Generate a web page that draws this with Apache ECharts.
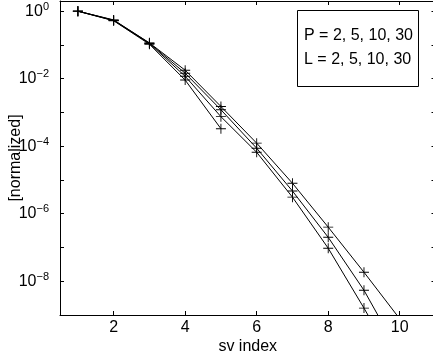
<!DOCTYPE html>
<html>
<head>
<meta charset="utf-8">
<script src="https://cdn.jsdelivr.net/npm/echarts@6/dist/echarts.min.js"></script>
<style>html,body{margin:0;padding:0;background:#fff;}#c{width:433px;height:362px;}</style>
</head>
<body>
<div id="c"></div>
<script>
const svIndex = [1, 2, 3, 4, 5, 6, 7, 8, 9, 10];
const seriesP2 = [1, 0.52, 0.105, 0.0091, 0.00033];
const seriesP5 = [1, 0.53, 0.11, 0.0118, 0.00075, 6.6e-5, 3.1e-6, 9.5e-8, 1.6e-9, 2.3e-11];
const seriesP10 = [1, 0.54, 0.113, 0.0145, 0.0012, 8.7e-5, 4.7e-6, 2.0e-7, 5.4e-9, 6.9e-11];
const seriesP30 = [1, 0.55, 0.115, 0.0178, 0.0015, 1.23e-4, 8.0e-6, 4.0e-7, 1.85e-8, 7.7e-10];
const pValues = [2, 5, 10, 30];
const lValues = [2, 5, 10, 30];
const xTicks = [2, 4, 6, 8, 10];

const FONT = "'Liberation Sans', Arial, sans-serif";
const plusSymbol = 'path://M4.55,0H5.45V4.55H10V5.45H5.45V10H4.55V5.45H0V4.55H4.55Z';

function pairs(vals) { return vals.map((v, i) => [svIndex[i], v]); }
function mk(vals) {
  return {
    type: 'line', data: pairs(vals), xAxisIndex: 0, yAxisIndex: 0,
    symbol: plusSymbol, symbolSize: 10, showSymbol: true, showAllSymbol: true,
    lineStyle: { color: '#000', width: 1 }, itemStyle: { color: '#000' },
    animation: false, clip: true, silent: true
  };
}

function yFmt(v) {
  const l = Math.log10(v);
  const e = Math.round(l);
  if (Math.abs(l - e) > 0.01 || e % 2 !== 0 || e > 0) return '';
  const es = e < 0 ? '\u2212' + (-e) : String(e);
  return '{b|10}{s|' + es + '}';
}

const chart = echarts.init(document.getElementById('c'), null, { renderer: 'canvas' });
chart.setOption({
  animation: false,
  backgroundColor: '#fff',
  textStyle: { fontFamily: FONT },
  title: {
    text: 'P = ' + pValues.join(', ') + '\nL = ' + lValues.join(', '),
    left: 297, top: 10,
    borderColor: '#000', borderWidth: 1,
    padding: [14, 6, 15, 7],
    backgroundColor: '#fff',
    textStyle: { fontFamily: FONT, fontSize: 16, fontWeight: 'normal', color: '#000', lineHeight: 24 }
  },
  grid: { left: 60, top: 1, width: 375.5, height: 314, containLabel: false, outerBoundsMode: 'none' },
  xAxis: [
    {
      type: 'value', min: 0.5, max: 11, position: 'bottom',
      name: 'sv index', nameLocation: 'middle', nameGap: 24, nameMoveOverlap: false,
      nameTextStyle: { fontFamily: FONT, fontSize: 16, color: '#000' },
      axisLine: { show: true, lineStyle: { color: '#000', width: 1 } },
      axisTick: { show: true, inside: true, length: 4, customValues: xTicks, lineStyle: { color: '#000' } },
      axisLabel: { customValues: xTicks, fontFamily: FONT, fontSize: 16, color: '#000', margin: 5 },
      splitLine: { show: false }
    },
    {
      type: 'value', min: 0.5, max: 11, position: 'top',
      axisLine: { show: true, onZero: false, lineStyle: { color: '#000', width: 1 } },
      axisTick: { show: true, inside: true, length: 4, customValues: xTicks, lineStyle: { color: '#000' } },
      axisLabel: { show: false }, splitLine: { show: false }
    }
  ],
  yAxis: [
    {
      type: 'log', logBase: 10, min: 1e-9, max: 2, interval: 1, position: 'left',
      name: '[normalized]', nameLocation: 'middle', nameGap: 36, nameMoveOverlap: false,
      nameTextStyle: { fontFamily: FONT, fontSize: 16, color: '#000' },
      axisLine: { show: true, onZero: false, lineStyle: { color: '#000', width: 1 } },
      axisTick: { show: true, inside: true, length: 4, lineStyle: { color: '#000' } },
      axisLabel: {
        formatter: yFmt, margin: 11, color: '#000', showMinLabel: true, showMaxLabel: true,
        rich: {
          b: { fontFamily: FONT, fontSize: 16, color: '#000' },
          s: { fontFamily: FONT, fontSize: 11, color: '#000', padding: [0, 0, 9, 0] }
        }
      },
      splitLine: { show: false }
    },
    {
      type: 'log', logBase: 10, min: 1e-9, max: 2, interval: 1, position: 'right',
      axisLine: { show: true, onZero: false, lineStyle: { color: '#000', width: 1 } },
      axisTick: { show: true, inside: true, length: 4, lineStyle: { color: '#000' } },
      axisLabel: { show: false }, splitLine: { show: false }
    }
  ],
  series: [mk(seriesP2), mk(seriesP5), mk(seriesP10), mk(seriesP30)]
});
</script>
</body>
</html>
